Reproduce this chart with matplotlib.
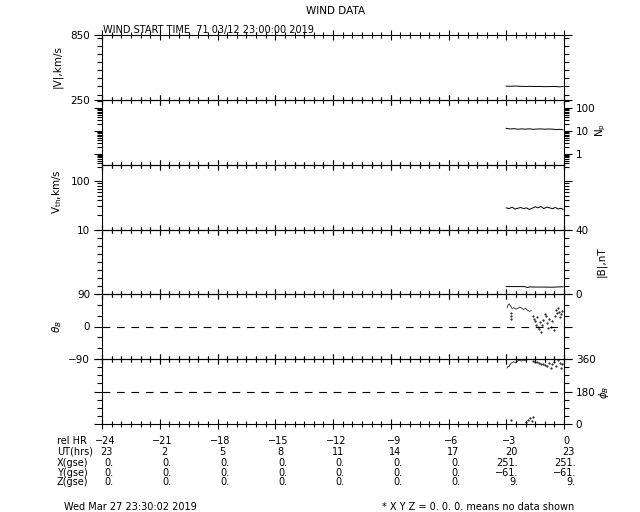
import matplotlib
matplotlib.use('Agg')
import matplotlib.pyplot as plt
import matplotlib.transforms as mtransforms
from matplotlib.ticker import MultipleLocator, FixedLocator, NullFormatter

plt.rcParams['font.family'] = 'DejaVu Sans'
plt.rcParams['font.size'] = 7

# data (hours relative to end)
hrs_v = [-3.0, -2.75, -2.5, -2.25, -2.0, -1.75, -1.5, -1.25, -1.0, -0.75, -0.5, -0.25, -0.05]
v = [378, 377, 379, 376, 375, 376, 374, 375, 373, 374, 375, 372, 374]

hrs_np = [-3.0, -2.8, -2.6, -2.4, -2.2, -2.0, -1.8, -1.6, -1.4, -1.2, -1.0, -0.8, -0.6, -0.4, -0.2, -0.05]
np_vals = [13.0, 12.2, 12.6, 11.9, 12.3, 12.0, 12.4, 11.8, 12.1, 12.3, 11.9, 12.2, 12.0, 11.6, 11.8, 11.2]

hrs_vth = [-3.0, -2.85, -2.7, -2.55, -2.4, -2.25, -2.1, -1.95, -1.8, -1.65, -1.5,
           -1.35, -1.2, -1.05, -0.9, -0.75, -0.6, -0.45, -0.3, -0.15, -0.05]
vth = [28, 27, 29, 26.5, 27.5, 28.5, 27, 28, 26, 27.5, 29.5, 28, 30, 27, 29, 28, 27, 28.5, 26.5, 27.5, 26]

hrs_b = [-3.0, -2.6, -2.2, -2.0, -1.9, -1.8, -1.4, -1.0, -0.6, -0.3, -0.05]
b = [4.6, 4.6, 4.6, 4.5, 4.0, 4.4, 4.3, 4.3, 4.2, 4.4, 4.5]

theta_line_h = [-2.95, -2.9, -2.85, -2.8, -2.75, -2.7, -2.6, -2.5, -2.4, -2.3, -2.2, -2.1, -2.0, -1.9, -1.8, -1.7]
theta_line = [52, 60, 63, 58, 55, 50, 52, 48, 50, 54, 51, 47, 50, 45, 42, 44]
theta_pts_h = [-2.75, -2.75, -2.75, -1.6, -1.55, -1.5, -1.45, -1.4, -1.35, -1.3, -1.25, -1.2, -1.15, -1.1,
               -1.0, -0.95, -0.9, -0.85, -0.8, -0.7, -0.6, -0.5, -0.45, -0.4, -0.35, -0.3, -0.25, -0.2, -0.15, -0.1]
theta_pts = [38, 30, 22, 30, 22, 15, 5, 25, 0, -8, 12, -15, 3, 18, 35, 28, 10, -5, 20, 0, 15, -10,
             30, 45, 38, 50, 40, 25, 35, 42]

phi_line_h = [-2.95, -2.9, -2.85, -2.8, -2.7, -2.6, -2.5, -2.4, -2.3, -2.2, -2.1, -2.0]
phi_line = [310, 320, 318, 330, 340, 345, 338, 350, 352, 348, 355, 350]
phi_pts_h = [-1.6, -1.5, -1.4, -1.3, -1.2, -1.1, -1.0, -0.9, -0.8, -0.7, -0.6, -0.5, -0.4, -0.3, -0.2,
             -0.15, -0.1, -2.75, -1.95, -1.85, -1.75, -1.65, -1.6]
phi_pts = [350, 345, 345, 340, 335, 330, 325, 320, 340, 310, 330, 345, 320, 355, 340, 310, 330,
           20, 10, 20, 35, 15, 40]

rel_hr = ['\u221224', '\u221221', '\u221218', '\u221215', '\u221212', '\u22129', '\u22126', '\u22123', '0']
ut_hrs = ['23', '2', '5', '8', '11', '14', '17', '20', '23']
x_gse = ['0.', '0.', '0.', '0.', '0.', '0.', '0.', '251.', '251.']
y_gse = ['0.', '0.', '0.', '0.', '0.', '0.', '0.', '\u221261.', '\u221261.']
z_gse = ['0.', '0.', '0.', '0.', '0.', '0.', '0.', '9.', '9.']
col_hrs = [-24, -21, -18, -15, -12, -9, -6, -3, 0]

fig = plt.figure(figsize=(6.4, 5.12), dpi=100)
W, H = 640.0, 512.0
left, right = 102, 564
tops = [35, 100, 165, 229.5, 294, 359]
bottoms = [100, 165, 229.5, 294, 359, 424]

axes = []
for t, bt in zip(tops, bottoms):
    ax = fig.add_axes([left / W, 1 - bt / H, (right - left) / W, (bt - t) / H])
    ax.set_xlim(-24, 0)
    ax.xaxis.set_major_locator(MultipleLocator(3))
    ax.xaxis.set_minor_locator(MultipleLocator(0.5))
    ax.tick_params(axis='x', which='both', direction='inout', top=True, bottom=True,
                   labelbottom=False, width=0.8)
    ax.tick_params(axis='x', which='major', length=7)
    ax.tick_params(axis='x', which='minor', length=4)
    ax.tick_params(axis='y', which='both', direction='out', left=True, right=True, width=0.8)
    ax.tick_params(axis='y', which='major', length=6, labelsize=7.5, pad=2.5)
    ax.tick_params(axis='y', which='minor', length=3.5)
    for s in ax.spines.values():
        s.set_linewidth(0.8)
    ax.patch.set_alpha(0)
    axes.append(ax)

lw = 0.7
ax1, ax2, ax3, ax4, ax5, ax6 = axes

# |V|
ax1.plot(hrs_v, v, 'k-', lw=lw)
ax1.set_ylim(250, 850)
ax1.yaxis.set_major_locator(FixedLocator([250, 850]))
ax1.yaxis.set_minor_locator(MultipleLocator(75))

# Np
ax2.plot(hrs_np, np_vals, 'k-', lw=lw)
ax2.set_yscale('log')
ax2.set_ylim(0.33, 223)
ax2.yaxis.set_major_locator(FixedLocator([1, 10, 100]))
ax2.yaxis.set_major_formatter(plt.FixedFormatter(['1', '10', '100']))
ax2.yaxis.set_minor_formatter(NullFormatter())
ax2.tick_params(axis='y', labelleft=False, labelright=True)

# Vth
ax3.plot(hrs_vth, vth, 'k-', lw=lw)
ax3.set_yscale('log')
ax3.set_ylim(10, 215)
ax3.yaxis.set_major_locator(FixedLocator([10, 100]))
ax3.yaxis.set_major_formatter(plt.FixedFormatter(['10', '100']))
ax3.yaxis.set_minor_formatter(NullFormatter())

# |B|
ax4.plot(hrs_b, b, 'k-', lw=lw)
ax4.set_ylim(0, 40)
ax4.yaxis.set_major_locator(FixedLocator([0, 40]))
ax4.yaxis.set_minor_locator(MultipleLocator(5))
ax4.tick_params(axis='y', labelleft=False, labelright=True)

# theta
ax5.plot(theta_line_h, theta_line, 'k-', lw=0.5)
ax5.plot(theta_pts_h, theta_pts, 'k.', ms=1.0)
ax5.axhline(0, color='k', lw=0.8, ls=(0, (7, 6)))
ax5.set_ylim(-90, 90)
ax5.yaxis.set_major_locator(FixedLocator([-90, 0, 90]))
ax5.yaxis.set_major_formatter(plt.FixedFormatter(['\u221290', '0', '90']))
ax5.yaxis.set_minor_locator(MultipleLocator(30))

# phi
ax6.plot(phi_line_h, phi_line, 'k-', lw=0.5)
ax6.plot(phi_pts_h, phi_pts, 'k.', ms=1.0)
ax6.axhline(180, color='k', lw=0.8, ls=(0, (7, 6)))
ax6.set_ylim(0, 360)
ax6.yaxis.set_major_locator(FixedLocator([0, 180, 360]))
ax6.yaxis.set_minor_locator(MultipleLocator(45))
ax6.tick_params(axis='y', labelleft=False, labelright=True)

# titles and axis names
fig.text(336 / W, 1 - 11 / H, 'WIND DATA', ha='center', va='center', fontsize=7.5)
fig.text(103 / W, 1 - 30 / H, 'WIND START TIME  71 03/12 23:00:00 2019', ha='left', va='center', fontsize=7)
fig.text(57 / W, 1 - 67 / H, '|V|,km/s', rotation=90, ha='center', va='center', fontsize=7.5)
fig.text(601 / W, 1 - 130 / H, r'N$_\mathregular{p}$', rotation=90, ha='center', va='center', fontsize=7.5)
fig.text(57 / W, 1 - 192 / H, r'V$_\mathregular{th}$,km/s', rotation=90, ha='center', va='center', fontsize=7.5)
fig.text(601 / W, 1 - 262 / H, '|B|,nT', rotation=90, ha='center', va='center', fontsize=7.5)
fig.text(57 / W, 1 - 327 / H, r'$\theta_B$', rotation=90, ha='center', va='center', fontsize=7.5)
fig.text(604 / W, 1 - 392 / H, r'$\phi_B$', rotation=90, ha='center', va='center', fontsize=7.5)

# table under the plot
trans = mtransforms.blended_transform_factory(ax6.transData, fig.transFigure)
rows = [('rel HR', rel_hr, 441, 0.15, 'center'),
        ('UT(hrs)', ut_hrs, 452, 0.25, 'center'),
        ('X(gse)', x_gse, 463, 0.62, 'right'),
        ('Y(gse)', y_gse, 472.5, 0.62, 'right'),
        ('Z(gse)', z_gse, 482, 0.62, 'right')]
for name, vals, ypx, off, ha in rows:
    fig.text(57 / W, 1 - ypx / H, name, ha='left', va='center', fontsize=7)
    for h, s in zip(col_hrs, vals):
        fig.text(h + off, 1 - ypx / H, s, ha=ha, va='center', fontsize=7, transform=trans)

fig.text(64 / W, 1 - 507 / H, 'Wed Mar 27 23:30:02 2019', ha='left', va='center', fontsize=7)
fig.text(382 / W, 1 - 507 / H, '* X Y Z = 0. 0. 0. means no data shown', ha='left', va='center', fontsize=7)

fig.savefig('out.png', dpi=100)
